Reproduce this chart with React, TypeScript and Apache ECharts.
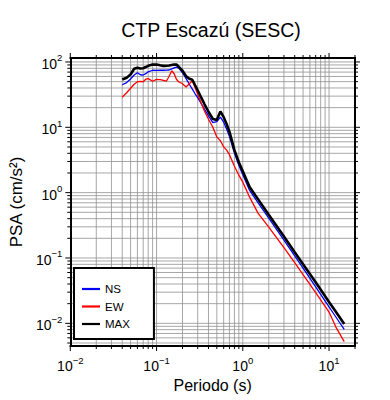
import React, { useEffect, useRef } from "react";
import * as echarts from "echarts";

// Periods (s)
const PERIODS = [0.04, 0.045, 0.05, 0.055, 0.06, 0.065, 0.07, 0.075, 0.08, 0.09, 0.1, 0.11, 0.12, 0.13, 0.14, 0.15, 0.16, 0.17, 0.18, 0.2, 0.22, 0.24, 0.26, 0.28, 0.3, 0.33, 0.36, 0.4, 0.45, 0.5, 0.55, 0.6, 0.65, 0.7, 0.8, 0.9, 1.0, 1.2, 1.5, 2, 3, 4, 5, 7, 10, 12, 15];

// PSA (cm/s^2)
const NS = [44.8, 48.4, 54.8, 63.1, 68.4, 63.7, 63.1, 66.2, 70.8, 74.7, 74.1, 75.2, 74.7, 75.0, 75.4, 78.4, 81.3, 83.3, 81.5, 68.4, 55.7, 45.6, 38.3, 32.6, 28.4, 23.0, 18.9, 15.0, 11.8, 12.2, 14.3, 12.0, 9.35, 7.31, 4.02, 2.63, 1.88, 1.08, 0.706, 0.407, 0.188, 0.1077, 0.0698, 0.0361, 0.0178, 0.0125, 0.0081];
const EW = [28.9, 33.8, 39.6, 45.6, 49.8, 50.3, 49.8, 54.4, 55.6, 50.7, 54.0, 53.7, 52.1, 50.7, 60.4, 73.3, 66.0, 54.4, 49.8, 46.4, 41.3, 46.4, 51.6, 40.3, 32.1, 23.4, 17.6, 13.3, 10.0, 7.13, 6.24, 5.01, 4.47, 3.81, 2.54, 1.85, 1.45, 0.853, 0.486, 0.297, 0.144, 0.0851, 0.0557, 0.0296, 0.0149, 0.00877, 0.00524];
const MAX = [53.8, 57.4, 64.2, 78.7, 81.8, 79.3, 80.1, 83.6, 87.2, 91.2, 91.2, 89.0, 87.2, 87.5, 88.1, 90.0, 91.6, 91.2, 85.1, 73.6, 60.7, 55.2, 53.4, 44.0, 36.9, 28.4, 22.5, 17.3, 13.4, 13.0, 17.5, 14.3, 11.2, 8.57, 4.47, 2.93, 2.13, 1.22, 0.796, 0.459, 0.213, 0.1227, 0.0804, 0.0424, 0.0212, 0.015, 0.00975];

const SERIES_NAMES = ["NS", "EW", "MAX"];
const X_MIN = 0.01;
const X_MAX = 20;
const Y_MIN = 0.0045;
const Y_MAX = 115;

// grid / tick values (1..9 per decade)
const X_DECADES = [0.01, 0.1, 1, 10];
const Y_DECADES = [0.001, 0.01, 0.1, 1, 10, 100];
const MULTS = [1, 2, 3, 4, 5, 6, 7, 8, 9];

const FONT = "'Liberation Sans', Arial, Helvetica, sans-serif";

function isDecade(v: number) {
  const l = Math.log10(v);
  return Math.abs(l - Math.round(l)) < 1e-6;
}

function gridValues(decades: number[], lo: number, hi: number) {
  const out: number[] = [];
  decades.forEach((d) => MULTS.forEach((m) => {
    const v = +(d * m).toPrecision(6);
    if (v >= lo - 1e-12 && v <= hi + 1e-12) out.push(v);
  }));
  return out;
}

const X_GRID = gridValues(X_DECADES, X_MIN, X_MAX);
const Y_GRID = gridValues(Y_DECADES, Y_MIN, Y_MAX);

function powLabel(v: number) {
  const l = Math.log10(v);
  const e = Math.round(l);
  if (Math.abs(l - e) > 1e-6) return "";
  const es = e < 0 ? "\u2212" + Math.abs(e) : String(e);
  return "{b|10}{s|" + es + "}";
}

const labelRich = {
  b: { fontSize: 14, lineHeight: 18, verticalAlign: "bottom", fontFamily: FONT, color: "#000" },
  s: { fontSize: 9.5, lineHeight: 10, verticalAlign: "top", fontFamily: FONT, color: "#000" },
};

const GRID_COLOR = "#909090";

export default function App() {
  const ref = useRef<HTMLDivElement>(null);
  useEffect(() => {
    if (!ref.current) return;
    const chart = echarts.init(ref.current, null, { renderer: "svg" });
    const axisLine = { show: true, onZero: false, lineStyle: { color: "#000", width: 2 } };
    const logAxisBase = (min: number, max: number) => ({
      type: "log",
      logBase: 10,
      min,
      max,
      z: 10,
      axisLine,
      axisTick: { show: false },
      splitLine: { show: false },
      minorTick: { show: false },
      minorSplitLine: { show: false },
    });
    const option: any = {
      animation: false,
      backgroundColor: "#fff",
      color: ["#0000ff", "#ff0000", "#000000"],
      title: {
        text: "CTP Escazú (SESC)",
        left: 211,
        top: 20,
        padding: 0,
        textAlign: "center",
        textStyle: { fontFamily: FONT, fontSize: 19.5, fontWeight: "normal", color: "#000" },
      },
      legend: {
        data: SERIES_NAMES,
        orient: "vertical",
        left: 74,
        top: 268,
        padding: [14, 24, 8, 8],
        itemWidth: 18,
        itemHeight: 2.2,
        itemGap: 3.5,
        icon: "rect",
        backgroundColor: "#fff",
        borderColor: "#000",
        borderWidth: 2,
        borderRadius: 0,
        z: 20,
        textStyle: { fontFamily: FONT, fontSize: 11.5, lineHeight: 14, color: "#000" },
      },
      grid: { left: 67, right: 35, top: 58, bottom: 54, containLabel: false },
      xAxis: [
        {
          ...logAxisBase(X_MIN, X_MAX),
          position: "bottom",
          splitNumber: 3,
          name: "Periodo (s)",
          nameLocation: "middle",
          nameGap: 28,
          nameTextStyle: { fontFamily: FONT, fontSize: 16, color: "#000" },
          axisLabel: { formatter: powLabel, margin: 9, rich: labelRich, showMinLabel: true, showMaxLabel: true },
        },
        {
          ...logAxisBase(X_MIN, X_MAX),
          position: "top",
          splitNumber: 3,
          axisLabel: { show: false },
        },
      ],
      yAxis: [
        {
          ...logAxisBase(Y_MIN, Y_MAX),
          position: "left",
          name: "PSA (cm/s²)",
          nameLocation: "middle",
          nameGap: 42,
          nameTextStyle: { fontFamily: FONT, fontSize: 17, color: "#000" },
          axisLabel: { formatter: powLabel, margin: 8, rich: labelRich },
        },
        {
          ...logAxisBase(Y_MIN, Y_MAX),
          position: "right",
          axisLabel: { show: false },
        },
      ],
      series: [
        {
          type: "custom",
          name: "xgrid",
          silent: true,
          z: 1,
          clip: false,
          xAxisIndex: 0,
          yAxisIndex: 0,
          data: X_GRID.map((v) => [v, 1]),
          renderItem: (params: any, api: any) => {
            const v = api.value(0);
            const cs = params.coordSys;
            const px = api.coord([v, 1])[0];
            const len = isDecade(v) ? 5 : 3;
            const children: any[] = [];
            if (v > X_MIN * 1.0001 && v < X_MAX * 0.9999) {
              children.push({ type: "line", shape: { x1: px, y1: cs.y, x2: px, y2: cs.y + cs.height }, style: { stroke: GRID_COLOR, lineWidth: 0.8 } });
            }
            children.push({ type: "line", shape: { x1: px, y1: cs.y + cs.height, x2: px, y2: cs.y + cs.height + len }, style: { stroke: "#000", lineWidth: 1 } });
            children.push({ type: "line", shape: { x1: px, y1: cs.y, x2: px, y2: cs.y - len }, style: { stroke: "#000", lineWidth: 1 } });
            return { type: "group", children };
          },
        },
        {
          type: "custom",
          name: "ygrid",
          silent: true,
          z: 1,
          clip: false,
          xAxisIndex: 0,
          yAxisIndex: 0,
          data: Y_GRID.map((v) => [1, v]),
          renderItem: (params: any, api: any) => {
            const v = api.value(1);
            const cs = params.coordSys;
            const py = api.coord([1, v])[1];
            const len = isDecade(v) ? 5 : 3;
            const children: any[] = [];
            if (v > Y_MIN * 1.0001 && v < Y_MAX * 0.9999) {
              children.push({ type: "line", shape: { x1: cs.x, y1: py, x2: cs.x + cs.width, y2: py }, style: { stroke: GRID_COLOR, lineWidth: 0.8 } });
            }
            children.push({ type: "line", shape: { x1: cs.x, y1: py, x2: cs.x - len, y2: py }, style: { stroke: "#000", lineWidth: 1 } });
            children.push({ type: "line", shape: { x1: cs.x + cs.width, y1: py, x2: cs.x + cs.width + len, y2: py }, style: { stroke: "#000", lineWidth: 1 } });
            return { type: "group", children };
          },
        },
        {
          type: "line",
          name: "NS",
          showSymbol: false,
          symbol: "none",
          z: 3,
          data: PERIODS.map((t, i) => [t, NS[i]]),
          lineStyle: { color: "#0000ff", width: 1.3 },
          itemStyle: { color: "#0000ff" },
        },
        {
          type: "line",
          name: "EW",
          showSymbol: false,
          symbol: "none",
          z: 3,
          data: PERIODS.map((t, i) => [t, EW[i]]),
          lineStyle: { color: "#ff0000", width: 1.3 },
          itemStyle: { color: "#ff0000" },
        },
        {
          type: "line",
          name: "MAX",
          showSymbol: false,
          symbol: "none",
          z: 4,
          data: PERIODS.map((t, i) => [t, MAX[i]]),
          lineStyle: { color: "#000000", width: 2.6 },
          itemStyle: { color: "#000000" },
        },
      ],
    };
    chart.setOption(option);
    return () => chart.dispose();
  }, []);
  return (
    <div
      ref={ref}
      style={{ position: "fixed", left: 0, top: 0, width: 390, height: 400, background: "#fff" }}
    />
  );
}
